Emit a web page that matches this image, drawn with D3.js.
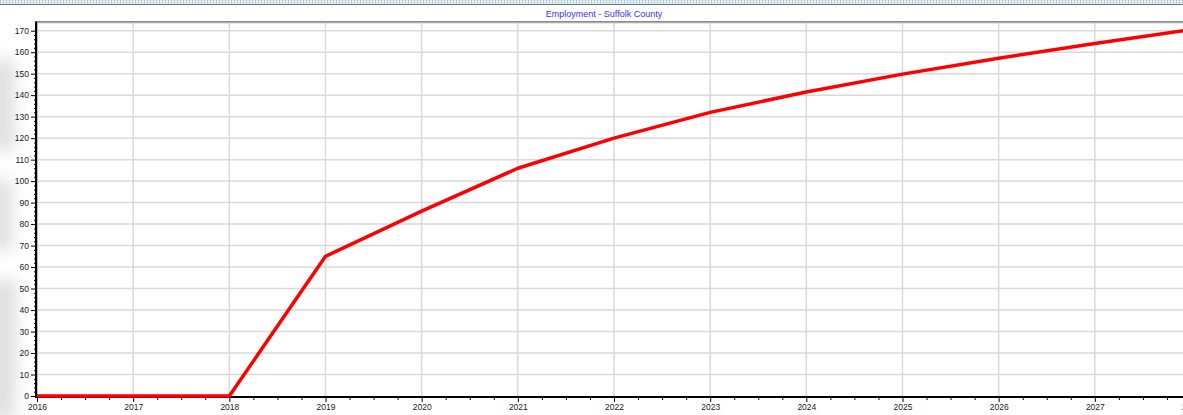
<!DOCTYPE html>
<html>
<head>
<meta charset="utf-8">
<script src="https://cdn.jsdelivr.net/npm/d3@7/dist/d3.min.js"></script>
<style>
  html, body { margin: 0; padding: 0; background: #fff; overflow: hidden; }
  svg { display: block; font-family: "Liberation Sans", Arial, sans-serif; }
  .grid line { stroke: #d9d9d9; stroke-width: 1.5; }
  .axis text { font-size: 8.5px; fill: #222; }
  .axis line { stroke: #000; }
  .axis path { display: none; }
</style>
</head>
<body>
<div id="chart"></div>
<script>
"use strict";

// chart data
let title = 'Employment - Suffolk County';
let years = [2016, 2017, 2018, 2019, 2020, 2021, 2022, 2023, 2024, 2025, 2026, 2027, 2028];
let employment = [0, 0, 0, 65, 86, 106, 120, 132, 141.5, 149.8, 157.2, 164, 170.5];
let yTicks = d3.range(0, 171, 10);

let W = 1183, H = 415;
let plot = { left: 36, top: 22.5, bottom: 397 };

let x = d3.scaleLinear()
  .domain([2016, 2028])
  .range([37, 1191]);

let y = d3.scaleLinear()
  .domain([0, 170])
  .range([396, 30.7]);

let svg = d3.select('#chart')
  .append('svg')
  .attr('width', W)
  .attr('height', H);

let defs = svg.append('defs');

let pat = defs.append('pattern')
  .attr('id', 'dots')
  .attr('width', 3).attr('height', 2)
  .attr('patternUnits', 'userSpaceOnUse');
pat.append('rect').attr('width', 3).attr('height', 2).attr('fill', '#e3ecef');
pat.append('rect').attr('width', 1).attr('height', 1).attr('fill', '#9fb3bd');

defs.append('filter').attr('id', 'blur')
  .attr('x', '-100%').attr('width', '300%')
  .append('feGaussianBlur').attr('stdDeviation', 8);

let topGrad = defs.append('linearGradient')
  .attr('id', 'topEdge').attr('x1', 0).attr('y1', 0).attr('x2', 0).attr('y2', 1);
topGrad.append('stop').attr('offset', '0%').attr('stop-color', '#7a7a7a');
topGrad.append('stop').attr('offset', '100%').attr('stop-color', '#d0d0d0');

// window chrome at the very top
svg.append('rect').attr('x', 0).attr('y', 0).attr('width', W).attr('height', 4)
  .attr('fill', 'url(#dots)');
svg.append('line').attr('x1', 0).attr('x2', W).attr('y1', 4.5).attr('y2', 4.5)
  .attr('stroke', '#5d7785').attr('stroke-width', 1.2);

// blurry background on the left side
let bg = svg.append('g').attr('filter', 'url(#blur)');
[[-10, 60, 24, 90], [-10, 180, 22, 70], [-10, 280, 26, 110], [-10, 380, 24, 40]]
  .forEach(r => {
    bg.append('rect')
      .attr('x', r[0]).attr('y', r[1]).attr('width', r[2]).attr('height', r[3])
      .attr('fill', '#dedede');
  });

// title
svg.append('text')
  .attr('x', 604)
  .attr('y', 17)
  .attr('text-anchor', 'middle')
  .attr('font-size', 9)
  .attr('fill', '#3333ff')
  .text(title);

// grid
svg.append('g')
  .attr('class', 'grid')
  .selectAll('line.h')
  .data(yTicks.slice(1))
  .join('line')
  .attr('x1', plot.left).attr('x2', W)
  .attr('y1', d => y(d)).attr('y2', d => y(d));

svg.append('g')
  .attr('class', 'grid')
  .selectAll('line.v')
  .data(years.slice(1))
  .join('line')
  .attr('x1', d => x(d)).attr('x2', d => x(d))
  .attr('y1', plot.top).attr('y2', plot.bottom);

// top border of plot
svg.append('rect')
  .attr('x', plot.left).attr('y', plot.top - 1.5)
  .attr('width', W - plot.left).attr('height', 2.5)
  .attr('fill', 'url(#topEdge)');

// y axis
svg.append('g')
  .attr('class', 'axis')
  .attr('transform', 'translate(' + plot.left + ',0)')
  .call(d3.axisLeft(y).tickValues(yTicks).tickSize(5).tickPadding(2).tickFormat(d3.format('d')));

svg.append('g')
  .attr('class', 'axis')
  .attr('transform', 'translate(' + plot.left + ',0)')
  .call(d3.axisLeft(y).tickValues(d3.range(2, 172, 2).filter(d => d % 10 !== 0)).tickSize(2).tickFormat(''));

// x axis
svg.append('g')
  .attr('class', 'axis')
  .attr('transform', 'translate(0,' + plot.bottom + ')')
  .call(d3.axisBottom(x).tickValues(years).tickSize(5).tickPadding(2).tickFormat(d3.format('d')));

svg.append('g')
  .attr('class', 'axis')
  .attr('transform', 'translate(0,' + plot.bottom + ')')
  .call(d3.axisBottom(x).tickValues(d3.range(2016.25, 2028, 0.25).filter(d => d % 1 !== 0)).tickSize(3).tickFormat(''));

// axis lines
svg.append('line')
  .attr('x1', plot.left + 1).attr('x2', plot.left + 1)
  .attr('y1', plot.top).attr('y2', plot.bottom)
  .attr('stroke', '#bbb').attr('stroke-width', 2);
svg.append('line')
  .attr('x1', plot.left).attr('x2', plot.left)
  .attr('y1', plot.top - 1).attr('y2', plot.bottom + 1)
  .attr('stroke', '#000').attr('stroke-width', 2);
svg.append('line')
  .attr('x1', plot.left - 1).attr('x2', W)
  .attr('y1', plot.bottom).attr('y2', plot.bottom)
  .attr('stroke', '#000').attr('stroke-width', 2);

// the series
let line = d3.line()
  .x((d, i) => x(years[i]))
  .y(d => y(d));

svg.append('path')
  .datum(employment)
  .attr('fill', 'none')
  .attr('stroke', '#ff0000')
  .attr('stroke-width', 3.5)
  .attr('stroke-linejoin', 'round')
  .attr('d', line);
</script>
</body>
</html>
